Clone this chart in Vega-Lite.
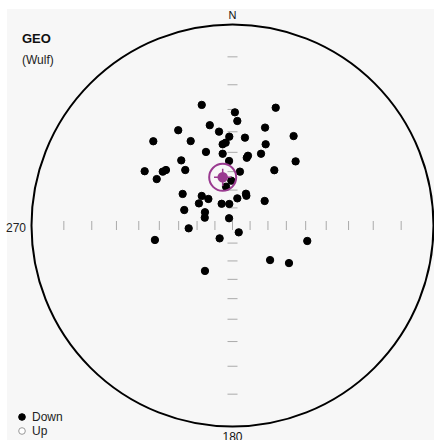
{
  "$schema": "https://vega.github.io/schema/vega-lite/v6.json",
  "width": 427,
  "height": 431,
  "autosize": {"type": "none"},
  "padding": {"left": 7, "top": 9, "right": 0, "bottom": 0},
  "background": "#ffffff",
  "config": {"view": {"stroke": null, "fill": "#f7f7f7"}, "font": "Liberation Sans"},
  "datasets": {
    "origin": [{"x": 0, "y": 0}],
    "hticks": [
      {"x": -0.8391, "y": 0}, {"x": -0.7002, "y": 0}, {"x": -0.5774, "y": 0}, {"x": -0.4663, "y": 0},
      {"x": -0.364, "y": 0}, {"x": -0.2679, "y": 0}, {"x": -0.1763, "y": 0}, {"x": -0.0875, "y": 0},
      {"x": 0, "y": 0},
      {"x": 0.0875, "y": 0}, {"x": 0.1763, "y": 0}, {"x": 0.2679, "y": 0}, {"x": 0.364, "y": 0},
      {"x": 0.4663, "y": 0}, {"x": 0.5774, "y": 0}, {"x": 0.7002, "y": 0}, {"x": 0.8391, "y": 0}
    ],
    "vticks": [
      {"x": 0, "y": -0.8391}, {"x": 0, "y": -0.7002}, {"x": 0, "y": -0.5774}, {"x": 0, "y": -0.4663},
      {"x": 0, "y": -0.364}, {"x": 0, "y": -0.2679}, {"x": 0, "y": -0.1763}, {"x": 0, "y": -0.0875},
      {"x": 0, "y": 0.0875}, {"x": 0, "y": 0.1763}, {"x": 0, "y": 0.2679}, {"x": 0, "y": 0.364},
      {"x": 0, "y": 0.4663}, {"x": 0, "y": 0.5774}, {"x": 0, "y": 0.7002}, {"x": 0, "y": 0.8391}
    ],
    "dirs": [
      {"x": -0.153, "y": 0.600, "dir": "Down"},
      {"x": 0.215, "y": 0.586, "dir": "Down"},
      {"x": 0.012, "y": 0.563, "dir": "Down"},
      {"x": 0.024, "y": 0.520, "dir": "Down"},
      {"x": -0.113, "y": 0.499, "dir": "Down"},
      {"x": -0.270, "y": 0.474, "dir": "Down"},
      {"x": -0.067, "y": 0.467, "dir": "Down"},
      {"x": 0.162, "y": 0.487, "dir": "Down"},
      {"x": -0.016, "y": 0.442, "dir": "Down"},
      {"x": 0.062, "y": 0.437, "dir": "Down"},
      {"x": 0.304, "y": 0.445, "dir": "Down"},
      {"x": -0.394, "y": 0.419, "dir": "Down"},
      {"x": -0.208, "y": 0.420, "dir": "Down"},
      {"x": -0.034, "y": 0.412, "dir": "Down"},
      {"x": -0.049, "y": 0.404, "dir": "Down"},
      {"x": 0.165, "y": 0.404, "dir": "Down"},
      {"x": -0.132, "y": 0.366, "dir": "Down"},
      {"x": -0.049, "y": 0.357, "dir": "Down"},
      {"x": 0.142, "y": 0.357, "dir": "Down"},
      {"x": 0.077, "y": 0.347, "dir": "Down"},
      {"x": 0.071, "y": 0.337, "dir": "Down"},
      {"x": -0.255, "y": 0.324, "dir": "Down"},
      {"x": -0.017, "y": 0.321, "dir": "Down"},
      {"x": 0.314, "y": 0.319, "dir": "Down"},
      {"x": -0.437, "y": 0.270, "dir": "Down"},
      {"x": -0.347, "y": 0.268, "dir": "Down"},
      {"x": -0.331, "y": 0.276, "dir": "Down"},
      {"x": -0.235, "y": 0.276, "dir": "Down"},
      {"x": -0.377, "y": 0.231, "dir": "Down"},
      {"x": 0.037, "y": 0.268, "dir": "Down"},
      {"x": 0.208, "y": 0.275, "dir": "Down"},
      {"x": -0.006, "y": 0.223, "dir": "Down"},
      {"x": -0.032, "y": 0.193, "dir": "Down"},
      {"x": -0.248, "y": 0.157, "dir": "Down"},
      {"x": -0.153, "y": 0.147, "dir": "Down"},
      {"x": -0.120, "y": 0.132, "dir": "Down"},
      {"x": -0.167, "y": 0.110, "dir": "Down"},
      {"x": -0.054, "y": 0.108, "dir": "Down"},
      {"x": -0.016, "y": 0.107, "dir": "Down"},
      {"x": 0.024, "y": 0.135, "dir": "Down"},
      {"x": 0.069, "y": 0.148, "dir": "Down"},
      {"x": 0.067, "y": 0.158, "dir": "Down"},
      {"x": 0.160, "y": 0.122, "dir": "Down"},
      {"x": -0.240, "y": 0.077, "dir": "Down"},
      {"x": -0.137, "y": 0.066, "dir": "Down"},
      {"x": -0.138, "y": 0.039, "dir": "Down"},
      {"x": -0.017, "y": 0.036, "dir": "Down"},
      {"x": -0.218, "y": -0.014, "dir": "Down"},
      {"x": 0.031, "y": -0.034, "dir": "Down"},
      {"x": -0.386, "y": -0.072, "dir": "Down"},
      {"x": -0.064, "y": -0.064, "dir": "Down"},
      {"x": 0.372, "y": -0.077, "dir": "Down"},
      {"x": -0.137, "y": -0.226, "dir": "Down"},
      {"x": 0.187, "y": -0.172, "dir": "Down"},
      {"x": 0.281, "y": -0.187, "dir": "Down"}
    ],
    "mean": [{"x": -0.0488, "y": 0.2398}],
    "labels": [
      {"x": -1.0473, "y": 0.9055, "label": "GEO"},
      {"x": -1.0473, "y": 0.8035, "label": "(Wulf)"},
      {"x": 0, "y": 1.0274, "label": "N"},
      {"x": -1.1269, "y": -0.0323, "label": "270"},
      {"x": 0, "y": -1.0721, "label": "180"}
    ]
  },
  "layer": [
    {
      "data": {"name": "origin"},
      "mark": {"type": "point", "shape": "circle", "size": 161604, "filled": false, "stroke": "#000000", "strokeWidth": 2, "opacity": 1},
      "encoding": {
        "x": {"field": "x", "type": "quantitative", "scale": {"domain": [-1.1219, 1.0025], "nice": false, "zero": false}, "axis": null},
        "y": {"field": "y", "type": "quantitative", "scale": {"domain": [-1.0672, 1.0771], "nice": false, "zero": false}, "axis": null}
      }
    },
    {
      "data": {"name": "hticks"},
      "mark": {"type": "tick", "orient": "vertical", "size": 9, "thickness": 1, "color": "#aaaaaa", "opacity": 1},
      "encoding": {
        "x": {"field": "x", "type": "quantitative"},
        "y": {"field": "y", "type": "quantitative"}
      }
    },
    {
      "data": {"name": "vticks"},
      "mark": {"type": "tick", "orient": "horizontal", "size": 10, "thickness": 1, "color": "#aaaaaa", "opacity": 1},
      "encoding": {
        "x": {"field": "x", "type": "quantitative"},
        "y": {"field": "y", "type": "quantitative"}
      }
    },
    {
      "data": {"name": "dirs"},
      "mark": {"type": "point", "shape": "circle", "filled": true, "size": 54, "opacity": 1, "strokeWidth": 1},
      "encoding": {
        "x": {"field": "x", "type": "quantitative"},
        "y": {"field": "y", "type": "quantitative"},
        "fill": {"field": "dir", "type": "nominal", "scale": {"domain": ["Down", "Up"], "range": ["#000000", "#ffffff"]},
          "legend": {"orient": "none", "legendX": 9, "legendY": 402, "title": null, "labelFontSize": 12, "labelColor": "#222222", "symbolSize": 44, "rowPadding": 2, "labelOffset": 4, "symbolStrokeWidth": 1}},
        "stroke": {"field": "dir", "type": "nominal", "scale": {"domain": ["Down", "Up"], "range": ["#000000", "#999999"]},
          "legend": {"orient": "none", "legendX": 9, "legendY": 402, "title": null, "labelFontSize": 12, "labelColor": "#222222", "symbolSize": 44, "rowPadding": 2, "labelOffset": 4, "symbolStrokeWidth": 1}}
      }
    },
    {
      "data": {"name": "mean"},
      "mark": {"type": "point", "shape": "circle", "size": 729, "filled": false, "stroke": "#9a3a90", "strokeWidth": 2, "opacity": 1},
      "encoding": {
        "x": {"field": "x", "type": "quantitative"},
        "y": {"field": "y", "type": "quantitative"}
      }
    },
    {
      "data": {"name": "mean"},
      "mark": {"type": "point", "shape": "circle", "size": 110, "filled": true, "color": "#9a3a90", "opacity": 1},
      "encoding": {
        "x": {"field": "x", "type": "quantitative"},
        "y": {"field": "y", "type": "quantitative"}
      }
    },
    {
      "data": {"name": "mean"},
      "mark": {"type": "point", "shape": "M-1,0L1,0M0,-1L0,1", "size": 300, "filled": false, "stroke": "#9a3a90", "strokeWidth": 1.5, "opacity": 1},
      "encoding": {
        "x": {"field": "x", "type": "quantitative"},
        "y": {"field": "y", "type": "quantitative"}
      }
    },
    {
      "data": {"name": "labels"},
      "transform": [{"filter": "datum.label === 'GEO'"}],
      "mark": {"type": "text", "fontSize": 13, "fontWeight": "bold", "align": "left", "baseline": "alphabetic", "color": "#111111"},
      "encoding": {"x": {"field": "x", "type": "quantitative"}, "y": {"field": "y", "type": "quantitative"}, "text": {"field": "label"}}
    },
    {
      "data": {"name": "labels"},
      "transform": [{"filter": "datum.label === '(Wulf)' || datum.label === '270'"}],
      "mark": {"type": "text", "fontSize": 12, "align": "left", "baseline": "alphabetic", "color": "#222222"},
      "encoding": {"x": {"field": "x", "type": "quantitative"}, "y": {"field": "y", "type": "quantitative"}, "text": {"field": "label"}}
    },
    {
      "data": {"name": "labels"},
      "transform": [{"filter": "datum.label === 'N'"}],
      "mark": {"type": "text", "fontSize": 11, "align": "center", "baseline": "alphabetic", "color": "#111111"},
      "encoding": {"x": {"field": "x", "type": "quantitative"}, "y": {"field": "y", "type": "quantitative"}, "text": {"field": "label"}}
    },
    {
      "data": {"name": "labels"},
      "transform": [{"filter": "datum.label === '180'"}],
      "mark": {"type": "text", "fontSize": 12, "align": "center", "baseline": "alphabetic", "color": "#111111"},
      "encoding": {"x": {"field": "x", "type": "quantitative"}, "y": {"field": "y", "type": "quantitative"}, "text": {"field": "label"}}
    }
  ]
}
